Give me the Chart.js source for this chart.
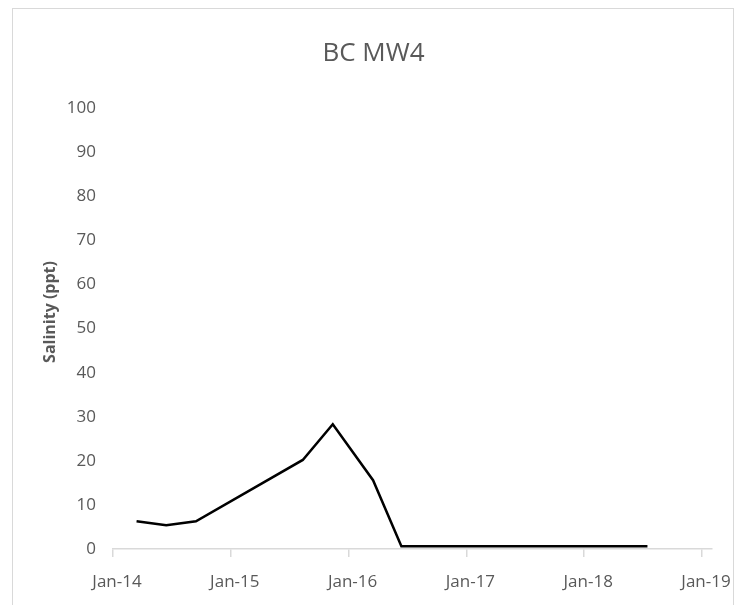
<!DOCTYPE html>
<html>
<head>
<meta charset="utf-8">
<script src="https://cdn.jsdelivr.net/npm/chart.js@4"></script>
<style>
  html, body { margin: 0; padding: 0; background: #fff; }
  #wrap { position: relative; width: 748px; height: 605px; overflow: hidden; }
  #frame { position: absolute; left: 12px; top: 8px; width: 720px; height: 640px; border: 1px solid #d9d9d9; }
  canvas { position: absolute; left: 0; top: 0; }
</style>
</head>
<body>
<div id="wrap">
  <div id="frame"></div>
  <canvas id="myChart" width="748" height="605"></canvas>
</div>
<script>
// Fechas de muestreo y salinidad (ppt)
const sampleDates = ["2014-03-15", "2014-06-15", "2014-09-15", "2015-08-12", "2015-11-13", "2016-03-17", "2016-06-13", "2018-07-16"];
const salinity = [6.3, 5.4, 6.3, 20.2, 28.3, 15.6, 0.6, 0.6];
const tickYears = [2014, 2015, 2016, 2017, 2018, 2019];

const FONT = "'Open Sans', sans-serif";

// convierte la fecha a año decimal
function toYear(s) {
  const d = new Date(s + "T00:00:00Z");
  const y = d.getUTCFullYear();
  const start = Date.UTC(y, 0, 1);
  const end = Date.UTC(y + 1, 0, 1);
  return y + (d.getTime() - start) / (end - start);
}

const points = sampleDates.map((d, i) => ({ x: toYear(d), y: salinity[i] }));

const ctx = document.getElementById("myChart");
const myChart = new Chart(ctx, {
  type: "line",
  data: {
    datasets: [
      {
        label: "BC MW4",
        data: points,
        borderColor: "#000000",
        backgroundColor: "#000000",
        borderWidth: 2.5,
        pointRadius: 0,
        tension: 0,
      },
    ],
  },
  options: {
    responsive: false,
    animation: false,
    layout: { padding: { left: 35, right: 36, top: 0, bottom: 0 } },
    plugins: {
      legend: { display: false },
      tooltip: { enabled: false },
      title: {
        display: true,
        text: "BC MW4",
        color: "#595959",
        font: { family: FONT, size: 26, weight: "normal" },
        padding: { top: 38, bottom: 39 },
      },
    },
    scales: {
      x: {
        type: "linear",
        min: 2014,
        max: 2019.085,
        afterBuildTicks: (s) => { s.ticks = tickYears.map((v) => ({ value: v })); },
        afterFit: (s) => { s.height = 56; },
        grid: { display: true, drawOnChartArea: false, drawTicks: true, tickLength: 8, color: "#d9d9d9", lineWidth: 1.5 },
        border: { display: true, color: "#d9d9d9", width: 1.5 },
        ticks: {
          color: "#595959",
          font: { family: FONT, size: 17 },
          padding: 15,
          labelOffset: 4,
          maxRotation: 0,
          callback: (v) => "Jan-" + String(v).slice(2),
        },
      },
      y: {
        min: 0,
        max: 100,
        afterFit: (s) => { s.width = 78; },
        grid: { display: false, drawTicks: false },
        border: { display: false },
        ticks: {
          stepSize: 10,
          color: "#595959",
          font: { family: FONT, size: 17 },
          padding: 17,
        },
        title: {
          display: true,
          text: "        Salinity (ppt)",
          color: "#595959",
          font: { family: FONT, size: 16, weight: "bold" },
          padding: { top: 6, bottom: 0 },
        },
      },
    },
  },
});
</script>
</body>
</html>
